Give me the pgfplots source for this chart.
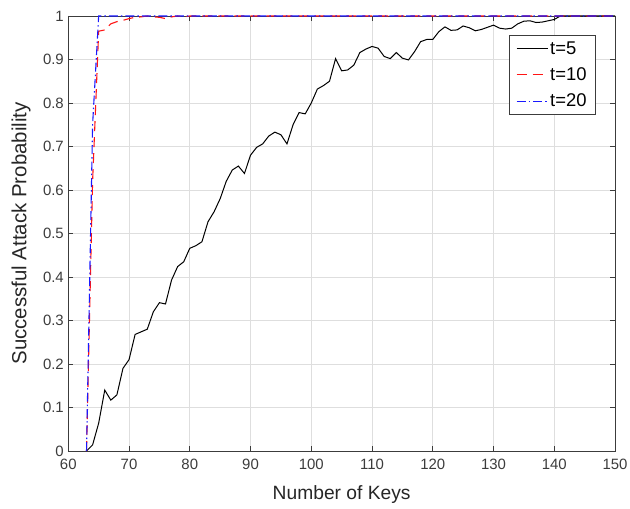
\documentclass[border=0pt]{standalone}
\usepackage{fontspec}
\setmainfont{Liberation Sans}
\usepackage{pgfplots}
\pgfplotsset{compat=1.18}
\definecolor{axgray}{RGB}{60,60,60}
\definecolor{gridgray}{RGB}{222,222,222}
\definecolor{myblue}{RGB}{25,25,255}
\definecolor{myred}{RGB}{255,20,20}
\begin{document}
\begin{tikzpicture}
\begin{axis}[
  scale only axis,
  width=546.7bp, height=435bp,
  xmin=60, xmax=150, ymin=0, ymax=1,
  xtick={60,70,80,90,100,110,120,130,140,150},
  ytick={0,0.1,0.2,0.3,0.4,0.5,0.6,0.7,0.8,0.9,1},
  yticklabels={0,0.1,0.2,0.3,0.4,0.5,0.6,0.7,0.8,0.9,1},
  grid=major,
  major grid style={draw=gridgray, line width=0.6bp},
  tick align=inside,
  major tick length=5bp,
  axis line style={draw=axgray, line width=0.7bp},
  tick style={draw=axgray, line width=0.6bp},
  /pgf/number format/assume math mode=true,
  ticklabel style={font=\fontsize{15}{17}\selectfont, text=axgray},
  xticklabel style={yshift=-5bp},
  yticklabel style={xshift=-1bp},
  xlabel={Number of Keys},
  ylabel={Successful Attack Probability},
  xlabel style={font=\fontsize{19.3}{21}\selectfont, text=black!85, at={(axis description cs:0.5,-0.1126)}, anchor=base},
  ylabel style={font=\fontsize{20.5}{22}\selectfont, text=black!85, at={(axis description cs:-0.0865,0.5)}, anchor=center},
  clip=false,
  legend image code/.code={\draw[#1] (0bp,0bp) -- (31bp,0bp);},
  legend style={at={(0.965,0.956)}, anchor=north east,
    draw=axgray, line width=0.6bp, fill=white,
    font=\fontsize{18.5}{20}\selectfont,
    row sep=8bp, inner xsep=7bp, inner ysep=4bp,
    nodes={inner sep=2bp}},
  legend cell align=left,
]
\addplot[draw=black, line width=1bp] coordinates {
(63,0) (64,0.014) (65,0.064) (66,0.14) (67,0.117) (68,0.129) (69,0.19) (70,0.21)
(71,0.268) (72,0.274) (73,0.28) (74,0.32) (75,0.341) (76,0.338) (77,0.393) (78,0.424)
(79,0.435) (80,0.466) (81,0.472) (82,0.481) (83,0.527) (84,0.55) (85,0.58) (86,0.62)
(87,0.646) (88,0.655) (89,0.638) (90,0.68) (91,0.698) (92,0.706) (93,0.724) (94,0.733)
(95,0.727) (96,0.706) (97,0.75) (98,0.778) (99,0.775) (100,0.8) (101,0.832) (102,0.84)
(103,0.85) (104,0.902) (105,0.874) (106,0.876) (107,0.887) (108,0.916) (109,0.924) (110,0.93)
(111,0.926) (112,0.907) (113,0.902) (114,0.916) (115,0.903) (116,0.899) (117,0.918) (118,0.941)
(119,0.946) (120,0.946) (121,0.964) (122,0.975) (123,0.967) (124,0.968) (125,0.977) (126,0.973)
(127,0.966) (128,0.969) (129,0.974) (130,0.979) (131,0.972) (132,0.97) (133,0.972) (134,0.982)
(135,0.988) (136,0.989) (137,0.985) (138,0.986) (139,0.989) (140,0.992) (141,1) (142,1)
(143,1) (144,1) (145,1) (146,1) (147,1) (148,1) (149,1) (150,1)
};
\addlegendentry{t=5}
\addplot[draw=myred, line width=1.1bp, dash pattern=on 10bp off 6bp] coordinates {
(63,0) (64,0.62) (65,0.965) (66,0.968) (67,0.982) (68,0.987) (69,0.99) (70,0.994)
(71,0.997) (72,0.998) (73,1) (74,0.998) (75,0.997) (76,0.994) (77,0.998) (78,1)
(79,0.998) (80,1) (85,1) (90,1) (95,1) (100,1) (110,1) (120,1) (130,1) (140,1) (150,1)
};
\addlegendentry{t=10}
\addplot[draw=myblue, line width=1.1bp, dash pattern=on 9bp off 3bp on 1.5bp off 3bp] coordinates {
(63,0) (64,0.75) (65,1) (70,1) (80,1) (90,1) (100,1) (110,1) (120,1) (130,1) (140,1) (150,1)
};
\addlegendentry{t=20}
\end{axis}
\pgfresetboundingbox
\path[use as bounding box] ([shift={(-68.3bp,-57bp)}]current axis.south west) rectangle ([shift={(15bp,16bp)}]current axis.north east);
\end{tikzpicture}
\end{document}
